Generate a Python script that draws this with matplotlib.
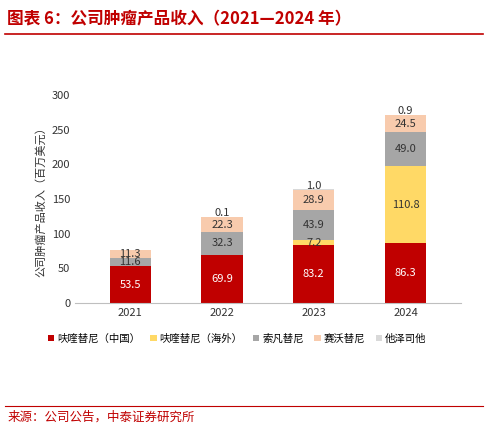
import matplotlib
matplotlib.use("Agg")
import matplotlib.pyplot as plt
import numpy as np

plt.rcParams['font.family'] = ['Noto Sans CJK SC', 'DejaVu Sans']

years = ["2021", "2022", "2023", "2024"]
series_names = ["呋喹替尼（中国）", "呋喹替尼（海外）", "索凡替尼", "赛沃替尼", "他泽司他"]
china = [53.5, 69.9, 83.2, 86.3]
overseas = [0, 0, 7.2, 110.8]
sofan = [11.6, 32.3, 43.9, 49.0]
savo = [11.3, 22.3, 28.9, 24.5]
other = [0, 0.1, 1.0, 0.9]
colors = ["#C00000", "#FFD966", "#A6A6A6", "#F8CBAD", "#D9D9D9"]
label_colors = ["white", "#333333", "#333333", "#333333", "#333333"]

fig = plt.figure(figsize=(4.88, 4.3), dpi=100)
ax = fig.add_axes([0.154, 0.295, 0.79, 0.484])
x = np.arange(len(years))
bottom = np.zeros(len(years))
for vals, name, c, lc in zip([china, overseas, sofan, savo, other], series_names, colors, label_colors):
    v = np.array(vals, dtype=float)
    ax.bar(x, v, 0.45, bottom=bottom, color=c, label=name)
    for xi, b, h in zip(x, bottom, v):
        if h > 0:
            if h < 3:
                ax.text(xi, b + h - 2, f"{h:.1f}", ha="center", va="bottom", fontsize=8, color=lc)
            else:
                ax.text(xi, b + h / 2, f"{h:.1f}", ha="center", va="center", fontsize=8, color=lc)
    bottom += v

ax.set_xticks(x, years)
ax.set_ylim(0, 300)
ax.set_yticks(range(0, 301, 50))
ax.tick_params(labelsize=8, length=0, colors="#333333")
for s in ["top", "right", "left"]:
    ax.spines[s].set_visible(False)
ax.spines["bottom"].set_color("#BFBFBF")
ax.set_xlim(-0.6, 3.6)
ax.set_ylabel("公司肿瘤产品收入（百万美元）", fontsize=8, color="#333333")
ax.legend(loc="upper center", bbox_to_anchor=(0.42, -0.1), ncol=5, frameon=False,
          fontsize=7.5, handlelength=0.6, handleheight=0.6, columnspacing=1.0, handletextpad=0.3)

fig.text(0.015, 0.955, "图表 6：公司肿瘤产品收入（2021—2024 年）", color="#C00000",
         fontsize=12, fontweight="bold", style="italic", va="center")
fig.add_artist(plt.Line2D([0.01, 0.99], [0.92, 0.92], color="#C00000", lw=1.2))
fig.add_artist(plt.Line2D([0.01, 0.99], [0.055, 0.055], color="#C00000", lw=0.8))
fig.text(0.015, 0.03, "来源：公司公告，中泰证券研究所", color="#C00000", fontsize=9, va="center")
fig.savefig("out.png", dpi=100)
